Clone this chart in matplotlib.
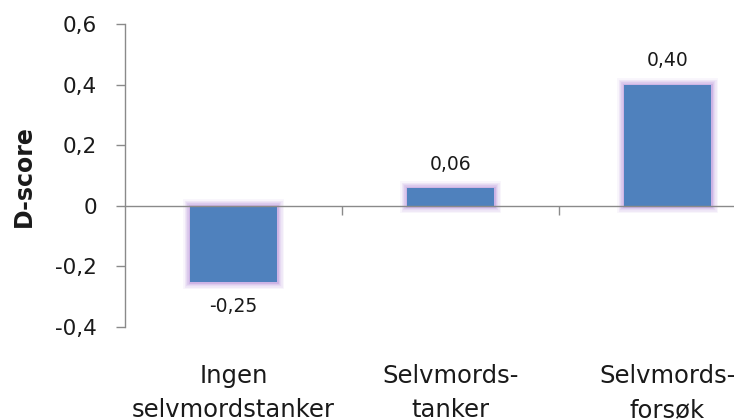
import matplotlib
matplotlib.use("Agg")
import matplotlib.pyplot as plt
import matplotlib.transforms as mtransforms

categories = ["Ingen\nselvmordstanker", "Selvmords-\ntanker", "Selvmords-\nforsøk"]
d_scores = [-0.25, 0.06, 0.40]
value_labels = ["-0,25", "0,06", "0,40"]
y_ticks = [-0.4, -0.2, 0, 0.2, 0.4, 0.6]
y_tick_labels = ["-0,4", "-0,2", "0", "0,2", "0,4", "0,6"]

plt.rcParams['font.family'] = ['DejaVu Sans']
W, H = 734, 419

fig = plt.figure(figsize=(W / 100, H / 100), dpi=100)
# axes run past the right edge, the last category sits partly outside the frame
ax = fig.add_axes([125 / W, 1 - 327 / H, 651 / W, 303 / H])
ax.patch.set_alpha(0)

x = range(len(categories))
bar_w = 0.4

# soft purple glow round each bar
for lw, a in [(10, 0.08), (8, 0.12), (6, 0.16), (4, 0.25), (2, 0.35)]:
    ax.bar(x, d_scores, width=bar_w, color='none', edgecolor='#B690DA',
           linewidth=lw, alpha=a, zorder=1)
ax.bar(x, d_scores, width=bar_w, color='#4F81BD', zorder=2)

for xi, v, lab in zip(x, d_scores, value_labels):
    off = 17 if v >= 0 else -18
    ax.annotate(lab, (xi, v), xytext=(0, off), textcoords='offset points',
                ha='center', va='center', fontsize=13.5, color='#1a1a1a')

ax.set_xlim(-0.5, 2.5)
ax.set_ylim(-0.4, 0.6)
ax.set_yticks(y_ticks)
ax.set_yticklabels(y_tick_labels, fontsize=15.5, color='#1a1a1a')

for s in ['top', 'right']:
    ax.spines[s].set_visible(False)
ax.spines['bottom'].set_position(('data', 0))
for s in ['left', 'bottom']:
    ax.spines[s].set_color('#8a8a8a')
    ax.spines[s].set_linewidth(1)
    ax.spines[s].set_zorder(3)

ax.set_xticks([0.5, 1.5])
ax.set_xticklabels([])
ax.tick_params(axis='x', direction='out', length=6.5, color='#8a8a8a', width=1)
ax.tick_params(axis='y', direction='out', length=6.5, color='#8a8a8a', width=1, pad=13.5)

# category names, one baseline per line
trans = mtransforms.blended_transform_factory(ax.transData, fig.transFigure)
baselines = [383, 417]
for xi, cat in zip(x, categories):
    for line, yb in zip(cat.split("\n"), baselines):
        ax.text(xi, 1 - yb / H, line, transform=trans, ha='center', va='baseline',
                fontsize=17.5, color='#1a1a1a', clip_on=False)

fig.text(24 / W, 1 - 176 / H, "D-score", rotation=90, ha='center', va='center',
         fontsize=17, fontweight='bold', color='#1a1a1a')

fig.savefig("out.png", dpi=100)
